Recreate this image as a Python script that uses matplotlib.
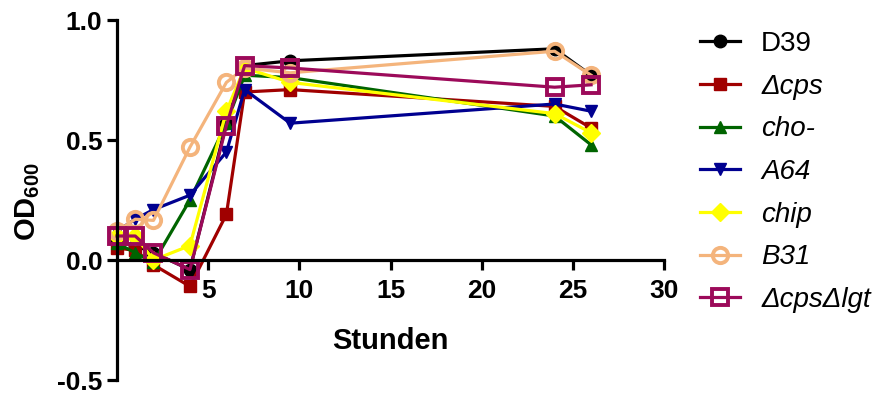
import matplotlib
matplotlib.use("Agg")
import matplotlib.pyplot as plt

plt.rcParams['font.family'] = ['Liberation Sans', 'DejaVu Sans']
plt.rcParams['mathtext.fontset'] = 'custom'
plt.rcParams['mathtext.rm'] = 'Liberation Sans'
plt.rcParams['mathtext.bf'] = 'Liberation Sans:bold'

# Zeitpunkte (Stunden)
stunden = [0, 1, 2, 4, 6, 7, 9.5, 24, 26]

# OD600-Werte je Stamm
d39 = [0.08, 0.06, 0.03, -0.04, 0.57, 0.81, 0.83, 0.88, 0.77]
dcps = [0.05, 0.04, -0.02, -0.11, 0.19, 0.70, 0.71, 0.64, 0.55]
cho = [0.07, 0.03, -0.01, 0.25, 0.57, 0.77, 0.76, 0.60, 0.48]
a64 = [0.12, 0.17, 0.21, 0.27, 0.45, 0.71, 0.57, 0.65, 0.62]
chip = [0.10, 0.10, 0.00, 0.06, 0.62, 0.80, 0.74, 0.61, 0.53]
b31 = [0.12, 0.17, 0.165, 0.47, 0.74, 0.80, 0.78, 0.87, 0.77]
dcps_dlgt = [0.10, 0.10, 0.03, -0.04, 0.56, 0.81, 0.80, 0.72, 0.73]

labels = ['D39', '\u0394cps', 'cho-', 'A64', 'chip', 'B31', '\u0394cps\u0394lgt']
serien = [d39, dcps, cho, a64, chip, b31, dcps_dlgt]
farben = ['#000000', '#a00000', '#006400', '#000090', '#ffff00', '#f4b47c', '#9c0a5a']
marker = ['o', 's', '^', 'v', 'D', 'o', 's']
gefuellt = [True, True, True, True, True, False, False]
groesse = [9, 9, 9, 9, 9, 11, 12]

fig = plt.figure(figsize=(8.82, 3.94), dpi=100)
ax = fig.add_axes([117/882, 14/394, (664-117)/882, (380-20)/394])

for y, lab, c, m, f, s in zip(serien, labels, farben, marker, gefuellt, groesse):
    ax.plot(stunden, y, color=c, marker=m, markersize=s, lw=2.3,
            markerfacecolor=c if f else 'none', markeredgecolor=c,
            markeredgewidth=1.0 if f else 2.8, label=lab, clip_on=False)

ax.set_xlim(0, 30)
ax.set_ylim(-0.5, 1.0)
ax.spines['top'].set_visible(False)
ax.spines['right'].set_visible(False)
ax.spines['bottom'].set_position(('data', 0))
for sp in ['left', 'bottom']:
    ax.spines[sp].set_linewidth(2.3)

ax.set_xticks([5, 10, 15, 20, 25, 30])
ax.set_yticks([-0.5, 0.0, 0.5, 1.0])
ax.set_yticklabels(['-0.5', '0.0', '0.5', '1.0'])
ax.tick_params(width=2.3, length=7.5, labelsize=19)
ax.tick_params(axis='x', pad=6)
ax.tick_params(axis='y', pad=3)
for t in ax.get_xticklabels() + ax.get_yticklabels():
    t.set_fontweight('bold')

ax.set_ylabel(r'$\mathbf{OD}_{\mathbf{600}}$', fontsize=21)
ax.yaxis.set_label_coords(28/882, 1 - 201/394, transform=fig.transFigure)
ax.yaxis.label.set_va('center')
ax.set_xlabel('Stunden', fontsize=21, fontweight='bold')
ax.xaxis.set_label_coords(390/882, 1 - 341/394, transform=fig.transFigure)
ax.xaxis.label.set_va('center')

leg = ax.legend(loc='upper left', bbox_to_anchor=(700/882, 1 - 31/394),
                bbox_transform=fig.transFigure, frameon=False, fontsize=20,
                handlelength=1.45, handletextpad=0.75, labelspacing=0.6,
                borderpad=0, borderaxespad=0)
for txt in leg.get_texts():
    if txt.get_text() != 'D39':
        txt.set_fontstyle('italic')

fig.savefig('out.png', dpi=100)
